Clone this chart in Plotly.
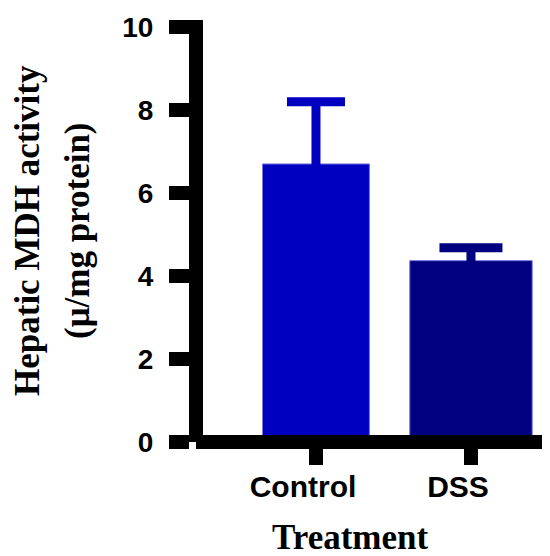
import plotly.graph_objects as go

# ---- data ----
categories = ["Control", "DSS"]
means = [6.70, 4.37]
errors = [1.50, 0.31]
y_ticks = [0, 2, 4, 6, 8, 10]
x_title = "Treatment"
y_title_lines = ["Hepatic MDH activity", "(μ/mg protein)"]

# ---- styles ----
colors = ["#0000C0", "#000080"]
bar_widths = [0.69, 0.79]
cap_half = [29, 31.5]
sans = "Liberation Sans, Arial, sans-serif"
serif = "Liberation Serif, Times New Roman, serif"

# page body adds an 8px offset; plot area in figure pixels
OFF = 8
L, T, W, H = 188, 12, 362, 422


def px_to_paper_x(sx):
    return (sx - OFF - L) / W


def px_to_paper_y(sy):
    return (T + H - (sy - OFF)) / H


fig = go.Figure()
for i, cat in enumerate(categories):
    fig.add_trace(go.Bar(
        x=[cat], y=[means[i]], width=[bar_widths[i]],
        marker=dict(color=colors[i], line=dict(color="#7878E0", width=1)),
        error_y=dict(type="data", array=[errors[i]], symmetric=True,
                     color=colors[i], thickness=9, width=cap_half[i]),
        showlegend=False, hoverinfo="skip",
    ))

fig.update_layout(
    width=550, height=556,
    margin=dict(l=L, r=550 - L - W, t=T, b=556 - T - H, pad=0),
    plot_bgcolor="white", paper_bgcolor="white",
    barmode="overlay",
    xaxis=dict(
        anchor="free", position=0, range=[-0.774, -0.774 + W / 155],
        showline=True, linewidth=14, linecolor="black",
        ticks="outside", ticklen=16, tickwidth=14, tickcolor="black",
        showgrid=False, zeroline=False, automargin=False,
        tickfont=dict(family=sans, size=30, color="black", weight="bold"),
        ticklabelshift=-13, ticklabelstandoff=-4,
    ),
    yaxis=dict(
        anchor="free", position=0, range=[0, 10.168],
        tickvals=y_ticks, ticktext=[str(v) for v in y_ticks],
        showline=True, linewidth=14, linecolor="black",
        ticks="outside", ticklen=20, tickwidth=14, tickcolor="black",
        showgrid=False, zeroline=False, automargin=False,
        tickfont=dict(family=sans, size=28, color="black", weight="bold"),
        ticklabelstandoff=10,
    ),
)

fig.add_annotation(
    text=x_title, xref="paper", yref="paper",
    x=px_to_paper_x(350), y=px_to_paper_y(537),
    xanchor="center", yanchor="middle", showarrow=False,
    font=dict(family=serif, size=35, color="black", weight="bold"),
)
for txt, sx in zip(y_title_lines, [27, 77]):
    fig.add_annotation(
        text=txt, xref="paper", yref="paper",
        x=px_to_paper_x(sx), y=px_to_paper_y(231),
        xanchor="center", yanchor="middle", showarrow=False, textangle=-90,
        font=dict(family=serif, size=35, color="black", weight="bold"),
    )

fig.write_html("out.html")
